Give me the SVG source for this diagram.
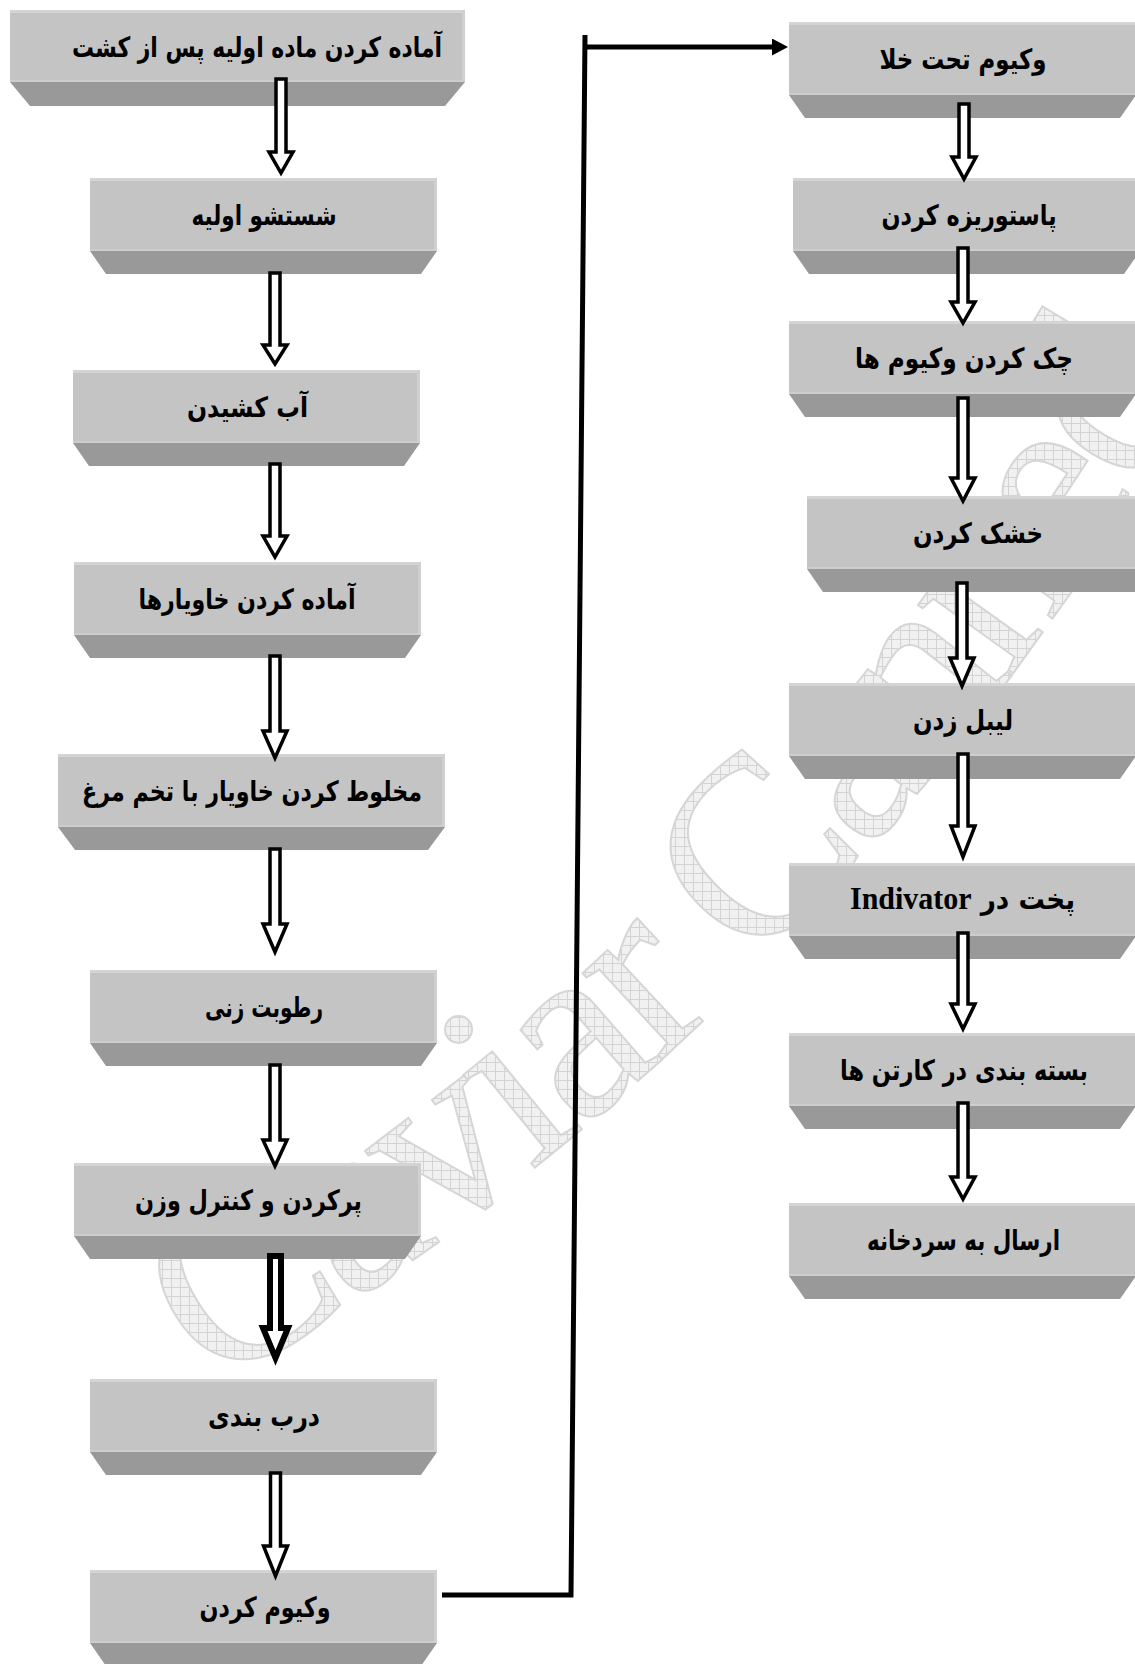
<svg xmlns="http://www.w3.org/2000/svg" width="1135" height="1664" viewBox="0 0 1135 1664">
<style>
.face{fill:#c4c4c4}
.hlt{fill:#d4d4d4}
.hlr{fill:#d0d0d0}
.hlb{fill:#cdcdcd}
.bevel{fill:#999999}
.lbl{font-family:"DejaVu Sans",sans-serif;font-weight:bold;font-size:28px;fill:#000;text-anchor:middle;direction:rtl;unicode-bidi:embed}
.lat{font-family:"Liberation Serif",serif;font-weight:bold;font-size:32px}
.arr{fill:#fff;stroke:#000;stroke-width:3.5;stroke-linejoin:miter;stroke-miterlimit:10}
.arrk{fill:#fff;stroke:#000;stroke-width:6;stroke-linejoin:miter;stroke-miterlimit:10}
.con{fill:none;stroke:#000;stroke-width:5}
.wm{font-family:"Liberation Serif",serif;font-size:255px;letter-spacing:-11px;fill:url(#grid);stroke:#d6d6d6;stroke-width:2;dominant-baseline:central}
</style>
<defs>
<pattern id="grid" width="9" height="9" patternUnits="userSpaceOnUse">
<rect width="9" height="9" fill="#f1f1f1"/>
<path d="M0,0.5H9M0.5,0V9" stroke="#d3d3d3" stroke-width="1"/>
</pattern>
<marker id="ah" markerWidth="16" markerHeight="17" refX="4" refY="8.5" orient="auto" markerUnits="userSpaceOnUse">
<path d="M0,0 L16,8.5 L0,17 Z" fill="#000"/>
</marker>
<path id="wmpath" d="M165,1318 A2634,2634 0 0 0 1220,160"/>
</defs>
<rect width="1135" height="1664" fill="#fff"/>
<g id="watermark">
<text class="wm"><textPath href="#wmpath">Caviar Canned</textPath></text>
</g>

<g id="n1"><polygon class="bevel" points="10,82 465,82 445,106 30,106"/><rect class="face" x="10" y="10" width="455" height="72"/><rect class="hlt" x="10" y="10" width="455" height="3"/><rect class="hlr" x="462" y="10" width="3" height="72"/><rect class="hlb" x="10" y="80" width="455" height="2"/><text class="lbl" x="257" y="57" textLength="370" lengthAdjust="spacingAndGlyphs">آماده کردن ماده اولیه پس از کشت</text></g>
<g id="n2"><polygon class="bevel" points="90,251 437,251 421,274 106,274"/><rect class="face" x="90" y="178" width="347" height="73"/><rect class="hlt" x="90" y="178" width="347" height="3"/><rect class="hlr" x="434" y="178" width="3" height="73"/><rect class="hlb" x="90" y="249" width="347" height="2"/><text class="lbl" x="264" y="225" textLength="145" lengthAdjust="spacingAndGlyphs">شستشو اولیه</text></g>
<g id="n3"><polygon class="bevel" points="73,443 420,443 404,466 89,466"/><rect class="face" x="73" y="370" width="347" height="73"/><rect class="hlt" x="73" y="370" width="347" height="3"/><rect class="hlr" x="417" y="370" width="3" height="73"/><rect class="hlb" x="73" y="441" width="347" height="2"/><text class="lbl" x="247.5" y="417" textLength="121" lengthAdjust="spacingAndGlyphs">آب کشیدن</text></g>
<g id="n4"><polygon class="bevel" points="74,635 421,635 405,658 90,658"/><rect class="face" x="74" y="562" width="347" height="73"/><rect class="hlt" x="74" y="562" width="347" height="3"/><rect class="hlr" x="418" y="562" width="3" height="73"/><rect class="hlb" x="74" y="633" width="347" height="2"/><text class="lbl" x="247" y="609" textLength="217" lengthAdjust="spacingAndGlyphs">آماده کردن خاویارها</text></g>
<g id="n5"><polygon class="bevel" points="58,827 445,827 428,850 75,850"/><rect class="face" x="58" y="754" width="387" height="73"/><rect class="hlt" x="58" y="754" width="387" height="3"/><rect class="hlr" x="442" y="754" width="3" height="73"/><rect class="hlb" x="58" y="825" width="387" height="2"/><text class="lbl" x="252" y="801" textLength="340" lengthAdjust="spacingAndGlyphs">مخلوط کردن خاویار با تخم مرغ</text></g>
<g id="n6"><polygon class="bevel" points="90,1043 437,1043 421,1066 106,1066"/><rect class="face" x="90" y="970" width="347" height="73"/><rect class="hlt" x="90" y="970" width="347" height="3"/><rect class="hlr" x="434" y="970" width="3" height="73"/><rect class="hlb" x="90" y="1041" width="347" height="2"/><text class="lbl" x="264" y="1017" textLength="118" lengthAdjust="spacingAndGlyphs">رطوبت زنی</text></g>
<g id="n7"><polygon class="bevel" points="74,1236 421,1236 405,1259 90,1259"/><rect class="face" x="74" y="1163" width="347" height="73"/><rect class="hlt" x="74" y="1163" width="347" height="3"/><rect class="hlr" x="418" y="1163" width="3" height="73"/><rect class="hlb" x="74" y="1234" width="347" height="2"/><text class="lbl" x="248.5" y="1210" textLength="227" lengthAdjust="spacingAndGlyphs">پرکردن و کنترل وزن</text></g>
<g id="n8"><polygon class="bevel" points="90,1452 437,1452 421,1475 106,1475"/><rect class="face" x="90" y="1379" width="347" height="73"/><rect class="hlt" x="90" y="1379" width="347" height="3"/><rect class="hlr" x="434" y="1379" width="3" height="73"/><rect class="hlb" x="90" y="1450" width="347" height="2"/><text class="lbl" x="264" y="1426" textLength="112" lengthAdjust="spacingAndGlyphs">درب بندی</text></g>
<g id="n9"><polygon class="bevel" points="90,1643 437,1643 421,1666 106,1666"/><rect class="face" x="90" y="1570" width="347" height="73"/><rect class="hlt" x="90" y="1570" width="347" height="3"/><rect class="hlr" x="434" y="1570" width="3" height="73"/><rect class="hlb" x="90" y="1641" width="347" height="2"/><text class="lbl" x="265" y="1617" textLength="131" lengthAdjust="spacingAndGlyphs">وکیوم کردن</text></g>

<g id="r1"><polygon class="bevel" points="789,95 1136,95 1120,118 805,118"/><rect class="face" x="789" y="22" width="347" height="73"/><rect class="hlt" x="789" y="22" width="347" height="3"/><rect class="hlb" x="789" y="93" width="347" height="2"/><text class="lbl" x="963" y="69" textLength="167" lengthAdjust="spacingAndGlyphs">وکیوم تحت خلا</text></g>
<g id="r2"><polygon class="bevel" points="793,251 1140,251 1124,274 809,274"/><rect class="face" x="793" y="178" width="347" height="73"/><rect class="hlt" x="793" y="178" width="347" height="3"/><rect class="hlb" x="793" y="249" width="347" height="2"/><text class="lbl" x="969" y="225" textLength="175" lengthAdjust="spacingAndGlyphs">پاستوریزه کردن</text></g>
<g id="r3"><polygon class="bevel" points="789,394 1136,394 1120,417 805,417"/><rect class="face" x="789" y="321" width="347" height="73"/><rect class="hlt" x="789" y="321" width="347" height="3"/><rect class="hlb" x="789" y="392" width="347" height="2"/><text class="lbl" x="964" y="368" textLength="218" lengthAdjust="spacingAndGlyphs">چک کردن وکیوم ها</text></g>
<g id="r4"><polygon class="bevel" points="807,569 1154,569 1138,592 823,592"/><rect class="face" x="807" y="496" width="347" height="73"/><rect class="hlt" x="807" y="496" width="347" height="3"/><rect class="hlb" x="807" y="567" width="347" height="2"/><text class="lbl" x="978" y="543" textLength="130" lengthAdjust="spacingAndGlyphs">خشک کردن</text></g>
<g id="r5"><polygon class="bevel" points="789,756 1136,756 1120,779 805,779"/><rect class="face" x="789" y="683" width="347" height="73"/><rect class="hlt" x="789" y="683" width="347" height="3"/><rect class="hlb" x="789" y="754" width="347" height="2"/><text class="lbl" x="963" y="730" textLength="100" lengthAdjust="spacingAndGlyphs">لیبل زدن</text></g>
<g id="r6"><polygon class="bevel" points="789,936 1136,936 1120,959 805,959"/><rect class="face" x="789" y="863" width="347" height="73"/><rect class="hlt" x="789" y="863" width="347" height="3"/><rect class="hlb" x="789" y="934" width="347" height="2"/><text class="lbl" x="962.5" y="909" textLength="225" lengthAdjust="spacingAndGlyphs">پخت در <tspan class="lat">Indivator</tspan></text></g>
<g id="r7"><polygon class="bevel" points="789,1106 1136,1106 1120,1129 805,1129"/><rect class="face" x="789" y="1033" width="347" height="73"/><rect class="hlt" x="789" y="1033" width="347" height="3"/><rect class="hlb" x="789" y="1104" width="347" height="2"/><text class="lbl" x="964" y="1080" textLength="248" lengthAdjust="spacingAndGlyphs">بسته بندی در کارتن ها</text></g>
<g id="r8"><polygon class="bevel" points="789,1276 1136,1276 1120,1299 805,1299"/><rect class="face" x="789" y="1203" width="347" height="73"/><rect class="hlt" x="789" y="1203" width="347" height="3"/><rect class="hlb" x="789" y="1274" width="347" height="2"/><text class="lbl" x="963.5" y="1250" textLength="193" lengthAdjust="spacingAndGlyphs">ارسال به سردخانه</text></g>

<g id="connectors">
<polygon class="arr" points="276,79 286,79 286,152 293,152 281,173 269,152 276,152"/>
<polygon class="arr" points="270,273 280,273 280,345 287,345 275,364 263,345 270,345"/>
<polygon class="arr" points="270,464 280,464 280,536 287,536 275,557 263,536 270,536"/>
<polygon class="arr" points="270,656 280,656 280,731 287,731 275,758 263,731 270,731"/>
<polygon class="arr" points="270,849 280,849 280,924 287,924 275,952 263,924 270,924"/>
<polygon class="arr" points="270,1065 280,1065 280,1140 287,1140 275,1166 263,1140 270,1140"/>
<polygon class="arrk" points="270,1256 281,1256 281,1328 288,1328 275.5,1358 263,1328 270,1328"/>
<polygon class="arr" points="270.5,1473 280.5,1473 280.5,1546 287.5,1546 275.5,1576 263.5,1546 270.5,1546"/>
<polygon class="arr" points="959,104 969,104 969,157 976,157 964,179 952,157 959,157"/>
<polygon class="arr" points="958,248 968,248 968,302 975,302 963,323 951,302 958,302"/>
<polygon class="arr" points="958,398 968,398 968,478 975,478 963,501 951,478 958,478"/>
<polygon class="arr" points="957,583 967,583 967,658 974,658 962,686 950,658 957,658"/>
<polygon class="arr" points="958,754 968,754 968,826 975,826 963,857 951,826 958,826"/>
<polygon class="arr" points="958,933 968,933 968,1004 975,1004 963,1029 951,1004 958,1004"/>
<polygon class="arr" points="958,1103 968,1103 968,1177 975,1177 963,1199 951,1177 958,1177"/>
<path class="con" d="M442,1595 L571,1595 L585,35"/>
<path class="con" d="M585,47 L776,47" marker-end="url(#ah)"/>
</g>
</svg>
